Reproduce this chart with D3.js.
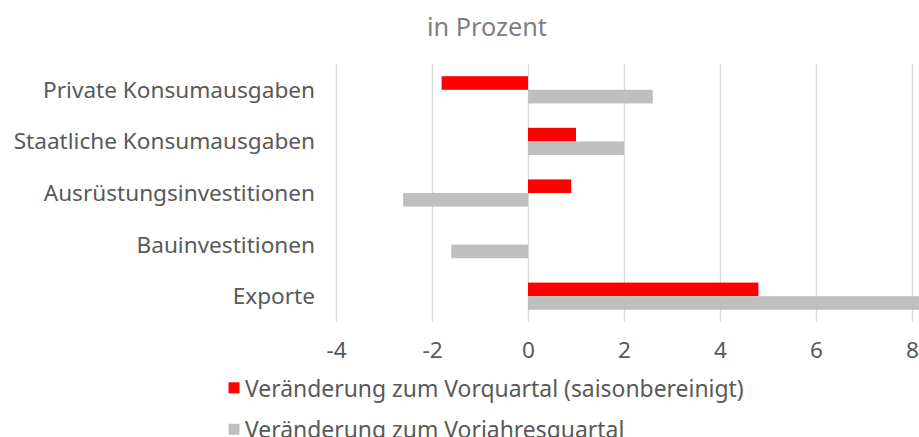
<!DOCTYPE html>
<html>
<head>
<meta charset="utf-8">
<script src="https://cdn.jsdelivr.net/npm/d3@7"></script>
<style>
  html, body { margin: 0; padding: 0; background: #fff; }
  svg { display: block; }
  text { font-family: "Noto Sans", "Open Sans", sans-serif; }
</style>
</head>
<body>
<svg id="chart" width="919" height="437"></svg>
<script>
const categories = ["Private Konsumausgaben", "Staatliche Konsumausgaben", "Ausrüstungsinvestitionen", "Bauinvestitionen", "Exporte"];
const seriesNames = ["Veränderung zum Vorquartal (saisonbereinigt)", "Veränderung zum Vorjahresquartal"];
const vorquartal = [-1.8, 1.0, 0.9, 0, 4.8];
const vorjahresquartal = [2.6, 2.0, -2.6, -1.6, 8.3];
const xTicks = [-4, -2, 0, 2, 4, 6, 8];
const titleText = "in Prozent";

const colors = ["#ff0000", "#bfbfbf"];
const W = 919, H = 437;
const plot = { left: 336, right: 912, top: 64, bottom: 322 };

const svg = d3.select("#chart");

svg.append("defs").append("clipPath").attr("id", "clip")
  .append("rect").attr("x", 0).attr("y", 0).attr("width", W).attr("height", H);

const x = d3.scaleLinear().domain([-4, 8]).range([plot.left, plot.right]);
const y = d3.scaleBand().domain(categories).range([plot.top, plot.bottom])
  .paddingInner(0.473).paddingOuter(0.2365);
const ySub = d3.scaleBand().domain([0, 1]).range([0, y.bandwidth()]);

function fitFont(sel, target) {
  const n = sel.node();
  const fs = parseFloat(sel.attr("font-size"));
  const w = n.getComputedTextLength();
  return fs * target / w;
}

// gridlines
const grid = svg.append("g")
  .attr("transform", `translate(0,${plot.bottom})`)
  .call(d3.axisBottom(x).tickValues(xTicks).tickSize(-(plot.bottom - plot.top)).tickFormat(""));
grid.select(".domain").remove();
grid.selectAll("line").attr("stroke", "#d9d9d9").attr("stroke-width", 1.3);

// bars
const seriesData = [vorquartal, vorjahresquartal];
const barsG = svg.append("g").attr("clip-path", "url(#clip)");
seriesData.forEach((vals, si) => {
  barsG.selectAll(".bar" + si)
    .data(categories.map((c, i) => ({ c, v: vals[i] })).filter(d => d.v !== 0))
    .enter().append("rect")
    .attr("x", d => x(Math.min(0, d.v)))
    .attr("width", d => Math.abs(x(d.v) - x(0)))
    .attr("y", d => y(d.c) + ySub(si))
    .attr("height", ySub.bandwidth())
    .attr("fill", colors[si]);
});

// measure font size from category label
const probe = svg.append("text").attr("font-size", 20).text(categories[0]);
const baseFs = fitFont(probe, 272);
probe.remove();

// x tick labels
const xa = svg.append("g")
  .attr("transform", `translate(0,${plot.bottom})`)
  .call(d3.axisBottom(x).tickValues(xTicks).tickSize(0).tickPadding(0).tickFormat(d => d < 0 ? "-" + Math.abs(d) : d));
xa.select(".domain").remove();
xa.selectAll("text").attr("font-size", baseFs).attr("fill", "#595959")
  .attr("dy", null).attr("y", 36);

// y category labels
const ya = svg.append("g")
  .attr("transform", `translate(${plot.left},0)`)
  .call(d3.axisLeft(y).tickSize(0).tickPadding(21));
ya.select(".domain").remove();
ya.selectAll("text").attr("font-size", baseFs).attr("fill", "#595959")
  .attr("dy", "0.35em");

// title
const title = svg.append("text").attr("font-size", 20).text(titleText);
const tFs = fitFont(title, 120);
title.attr("font-size", tFs).attr("x", 487).attr("y", 35.7)
  .attr("text-anchor", "middle").attr("fill", "#7f7f7f");

// legend
const leg = svg.append("g");
const probe2 = svg.append("text").attr("font-size", 20).text(seriesNames[0]);
const lFs = fitFont(probe2, 499);
probe2.remove();
seriesNames.forEach((name, i) => {
  const g = leg.append("g").attr("transform", `translate(0,${i * 41.5})`);
  g.append("rect").attr("x", 228.5).attr("y", 382.3).attr("width", 11).attr("height", 11).attr("fill", colors[i]);
  g.append("text").attr("x", 245).attr("y", 396.7).attr("font-size", lFs).attr("fill", "#595959").text(name);
});
</script>
</body>
</html>
